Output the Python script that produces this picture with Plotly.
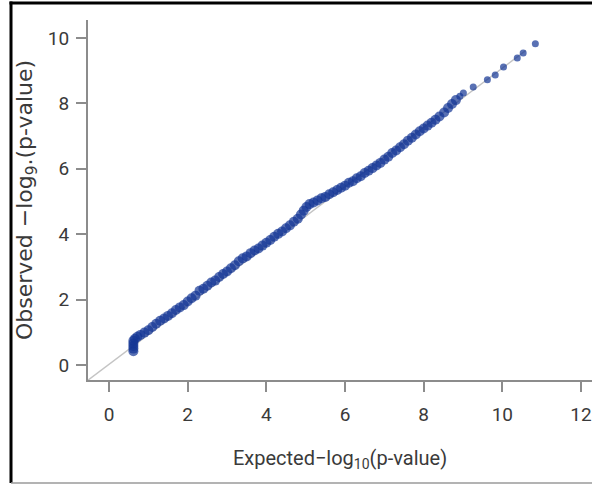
import plotly.graph_objects as go

expected = [0.62, 0.62, 0.62, 0.62, 0.62, 0.66, 0.72, 0.80, 0.90, 1.00,
            1.10, 1.20, 1.30, 1.40, 1.50, 1.60, 1.70, 1.80, 1.90, 2.00,
            2.10, 2.20, 2.30, 2.40, 2.50, 2.60, 2.70, 2.80, 2.90, 3.00,
            3.10, 3.20, 3.30, 3.40, 3.50, 3.60, 3.70, 3.80, 3.90, 4.00,
            4.10, 4.20, 4.30, 4.40, 4.50, 4.60, 4.70, 4.80, 4.88, 4.95,
            5.02, 5.10, 5.20, 5.30, 5.40, 5.50, 5.60, 5.70, 5.80, 5.90,
            6.00, 6.10, 6.20, 6.30, 6.40, 6.50, 6.60, 6.70, 6.80, 6.90,
            7.00, 7.10, 7.20, 7.30, 7.40, 7.50, 7.60, 7.70, 7.80, 7.90,
            8.00, 8.10, 8.20, 8.30, 8.40, 8.52, 8.62, 8.72, 8.82, 8.92,
            9.01, 9.26, 9.62, 9.82, 10.03, 10.38, 10.53, 10.84]
observed = [0.42, 0.50, 0.58, 0.66, 0.74, 0.80, 0.86, 0.92, 0.99, 1.06,
            1.16, 1.26, 1.35, 1.42, 1.50, 1.58, 1.68, 1.76, 1.83, 1.94,
            2.04, 2.12, 2.27, 2.33, 2.42, 2.52, 2.58, 2.69, 2.78, 2.86,
            2.96, 3.05, 3.17, 3.26, 3.32, 3.42, 3.50, 3.56, 3.65, 3.74,
            3.82, 3.92, 4.01, 4.08, 4.18, 4.27, 4.38, 4.47, 4.60, 4.72,
            4.83, 4.92, 4.97, 5.03, 5.10, 5.14, 5.22, 5.28, 5.35, 5.42,
            5.48, 5.57, 5.62, 5.71, 5.77, 5.87, 5.94, 6.02, 6.10, 6.18,
            6.28, 6.37, 6.48, 6.56, 6.66, 6.75, 6.86, 6.95, 7.05, 7.15,
            7.23, 7.32, 7.41, 7.50, 7.60, 7.72, 7.86, 7.98, 8.10, 8.22,
            8.32, 8.50, 8.72, 8.87, 9.11, 9.39, 9.54, 9.82]

# Reference line endpoints
ref_x = [-0.53, 10.6]
ref_y = [-0.46, 9.62]

x_ticks = [0, 2, 4, 6, 8, 10, 12]
y_ticks = [0, 2, 4, 6, 8, 10]

sizes = [10 if x < 8.9 else 7 for x in expected]

fig = go.Figure()
fig.add_trace(go.Scatter(x=ref_x, y=ref_y, mode="lines",
                         line=dict(color="#c4c4c4", width=1.5),
                         hoverinfo="skip", showlegend=False))
fig.add_trace(go.Scatter(x=expected, y=observed, mode="markers",
                         marker=dict(color="#123494", size=sizes, line=dict(width=0)),
                         showlegend=False))

tick_font = dict(family="Roboto, Liberation Sans, sans-serif", size=19, color="#3a3a3a")

fig.update_xaxes(range=[-0.534, 12.28], tickvals=x_ticks, ticktext=[str(v) for v in x_ticks],
                 showgrid=False, zeroline=False, showline=True, linecolor="#8c8c8c", linewidth=2,
                 ticks="outside", ticklen=10, tickwidth=1.5, tickcolor="#8c8c8c",
                 tickfont=tick_font, ticklabelstandoff=6, ticklabeloverflow="allow",
                 title=dict(text="Expected\u2212log<sub>10</sub>(p-value)",
                            font=dict(family=tick_font["family"], size=20, color="#3a3a3a"),
                            standoff=26))
fig.update_yaxes(range=[-0.46, 10.55], tickvals=y_ticks, ticktext=[str(v) for v in y_ticks],
                 showgrid=False, zeroline=False, showline=True, linecolor="#8c8c8c", linewidth=2,
                 ticks="outside", ticklen=10, tickwidth=1.5, tickcolor="#8c8c8c",
                 tickfont=tick_font, ticklabelstandoff=3,
                 title=dict(text="Observed \u2212log<sub>9</sub>.(p-value)",
                            font=dict(family="DejaVu Sans, sans-serif", size=22, color="#3a3a3a"),
                            standoff=9))

W, H = 592, 485
L, R, T, B = 88, 0, 20, 105
pw, ph = W - L - R, H - T - B

def px(x):
    return (x - L) / pw

def py(y):
    return (H - B - y) / ph

fig.update_layout(
    width=W, height=H, margin=dict(l=L, r=R, t=T, b=B, autoexpand=False),
    paper_bgcolor="white", plot_bgcolor="white",
    shapes=[
        dict(type="line", xref="paper", yref="paper", x0=px(11), x1=px(11), y0=py(483), y1=py(1.5),
             line=dict(color="black", width=3)),
        dict(type="line", xref="paper", yref="paper", x0=px(9.5), x1=px(592), y0=py(3), y1=py(3),
             line=dict(color="black", width=3)),
        dict(type="line", xref="paper", yref="paper", x0=px(11), x1=px(592), y0=py(483), y1=py(483),
             line=dict(color="#9a9a9a", width=1.5)),
    ],
)

fig.write_html("out.html")
